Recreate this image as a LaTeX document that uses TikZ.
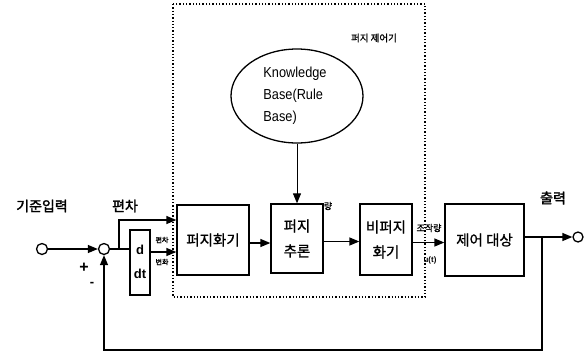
\documentclass[tikz,border=0pt]{standalone}
\usepackage{fontspec}
\setmainfont{Liberation Sans}
\newfontfamily\kr{Noto Sans CJK KR}
\newfontfamily\krm{Noto Sans CJK KR}[FakeBold=1]
\newfontfamily\krb{Noto Sans CJK KR}[FakeBold=2]
\usetikzlibrary{arrows.meta,shapes.geometric}
\tikzset{
  blk/.style={draw, line width=1.3pt, inner sep=0pt, align=center, font=\krm\fontsize{14.5}{25}\selectfont},
  port/.style={draw, circle, line width=1.3pt, minimum size=11pt, inner sep=0pt},
  sig/.style={line width=1.3pt},
  arr/.style={line width=1.3pt, -{Triangle[length=10pt,width=8pt]}},
  biglbl/.style={font=\krb\fontsize{14}{16}\selectfont, inner sep=0pt},
  smalllbl/.style={font=\krb\fontsize{7}{8}\selectfont, inner sep=0pt},
  midlbl/.style={font=\krm\fontsize{9}{10}\selectfont, inner sep=0pt},
  ctrlbox/.style={dotted, line width=1.3pt}
}
\begin{document}
\begin{tikzpicture}[x=1pt,y=-1pt]
\useasboundingbox (0,0) rectangle (586,354);
% controller frame
\draw[ctrlbox] (173,4) rectangle (425,297);
\node[midlbl, font=\krm\fontsize{9.5}{11}\selectfont] (ctl) at (374,38) {퍼지 제어기};
% knowledge base
\node[draw, ellipse, line width=1.3pt, minimum width=132pt, minimum height=94pt] (kb) at (297,96) {};
\node[align=left, inner sep=0pt, font=\fontsize{14.5}{22}\selectfont, xscale=0.88] (kbt) at (295,96) {Knowledge\\Base(Rule\\Base)};
% blocks
\node[blk, minimum width=72pt, minimum height=70pt] (fz) at (213,240) {퍼지화기};
\node[blk, minimum width=52pt, minimum height=69pt] (inf) at (297,238.5) {퍼지\\추론};
\node[blk, minimum width=52pt, minimum height=71pt] (dfz) at (386,239.5) {비퍼지\\화기};
\node[blk, minimum width=79pt, minimum height=72pt] (pl) at (484.5,240) {제어 대상};
\node[draw, line width=1.3pt, minimum width=20pt, minimum height=65pt, inner sep=0pt] (db) at (140,262.5) {};
\node[inner sep=0pt, font=\bfseries\fontsize{13}{14}\selectfont] (dd) at (140,250) {d};
\node[inner sep=0pt, font=\bfseries\fontsize{13}{14}\selectfont] (ddt) at (140,274) {dt};
% ports
\node[port] (in) at (42,249) {};
\node[port] (sum) at (104,249) {};
\node[port, minimum size=10pt] (out) at (578,237) {};
% labels
\node[biglbl] (lin) at (42,206) {기준입력};
\node[biglbl] (lerr) at (125,206) {편차};
\node[biglbl] (lout) at (553,198) {출력};
\node[inner sep=0pt, font=\bfseries\fontsize{16}{17}\selectfont] (plus) at (84,268) {+};
\node[inner sep=0pt, font=\bfseries\fontsize{13}{14}\selectfont] (minus) at (92,284) {-};
\node[smalllbl] (le1) at (162,240) {편차};
\node[smalllbl] (le2) at (162,262) {변화};
\node[midlbl] (lq) at (328,206) {량};
\node[midlbl] (lu1) at (429,228) {조작량};
\node[inner sep=0pt, font=\bfseries\fontsize{8}{9}\selectfont] (lu2) at (430,260) {u(t)};
% connections
\coordinate (j) at (119,249);
\draw[arr] (in) -- (sum);
\draw[sig] (sum) -- (j) -- (db.west |- j);
\coordinate (up) at ([yshift=20pt]fz.west);
\coordinate (lo) at ([yshift=-12pt]fz.west);
\draw[arr] (j) |- (up);
\draw[arr] (db.east |- lo) -- (lo);
\coordinate (a1) at ([yshift=-3pt]fz.east);
\draw[arr] (a1) -- (inf.west |- a1);
\coordinate (a2) at ([yshift=-3pt]inf.east);
\draw[arr] (a2) -- (dfz.west |- a2);
\coordinate (a3) at ([yshift=-3pt]dfz.east);
\draw[arr] (a3) -- (pl.west |- a3);
\draw[arr, line width=1pt] (kb.south) -- (inf.north);
\coordinate (tap) at (542,237);
\draw[sig] (pl.east |- tap) -- (tap);
\draw[arr] (tap) -- (out.west);
\coordinate (fb) at (104,350);
\draw[arr] (tap) |- (fb) -- (sum.south);
\end{tikzpicture}
\end{document}
